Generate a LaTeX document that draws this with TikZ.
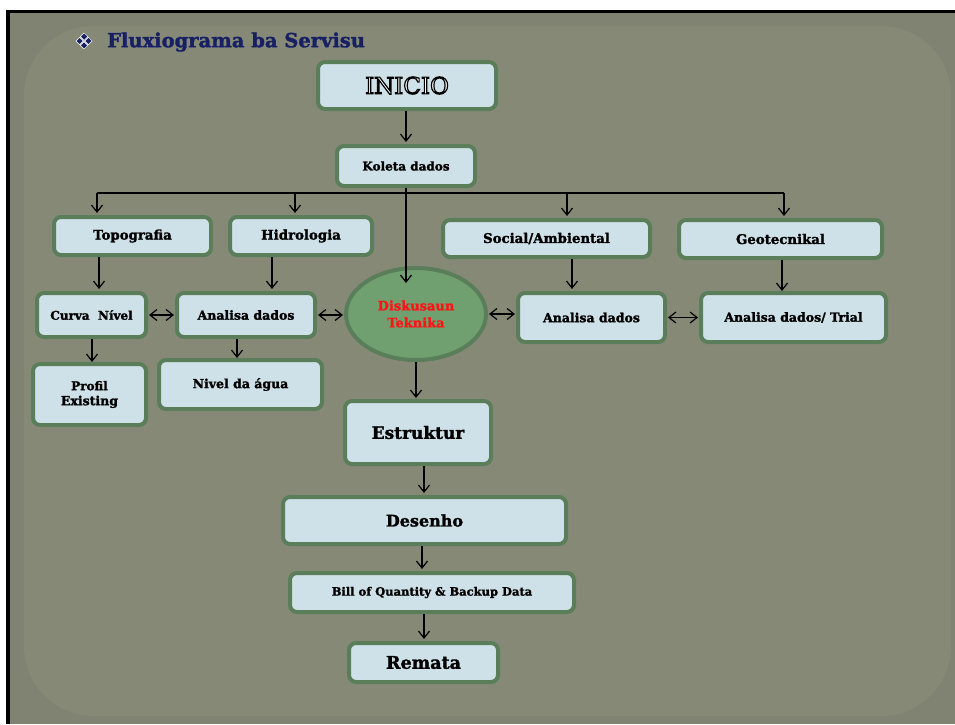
\documentclass[tikz,border=0pt]{standalone}
\usepackage{fontspec}
\setmainfont{DejaVu Serif}[BoldFeatures={FakeBold=1.6}]
\newfontfamily\dingfont{DejaVu Sans}
\usetikzlibrary{arrows.meta,shapes.geometric,calc}

% text drawn with a stroked outline: #1 = stroke colour (PDF operator), #2 = width, #3 = text
\newcommand{\strokedtext}[3]{%
  \special{pdf:literal direct #1 #2 w 2 Tr}#3\special{pdf:literal direct 0 Tr}}

\definecolor{pagewhite}{RGB}{255,255,255}
\definecolor{framegray}{RGB}{129,131,114}
\definecolor{panelgray}{RGB}{135,137,119}
\definecolor{boxfill}{RGB}{207,225,232}
\definecolor{boxedge}{RGB}{90,125,90}
\definecolor{ovalfill}{RGB}{112,160,112}
\definecolor{titlenavy}{RGB}{24,32,100}
\definecolor{alertred}{RGB}{255,20,20}

\tikzset{
  stepbox/.style={draw=boxedge, line width=4pt, fill=boxfill, rounded corners=7pt,
    inner sep=0pt, align=center, font=\bfseries\fontsize{12.5}{15}\selectfont},
  ovalbox/.style={ellipse, draw=boxedge, line width=4pt, fill=ovalfill,
    inner sep=0pt, align=center, text=alertred, font=\bfseries\fontsize{13}{17}\selectfont},
  arr/.style={line width=1.2pt, -{Straight Barb[length=7pt,width=11pt]}},
  darr/.style={line width=1.2pt, {Straight Barb[length=7pt,width=11pt]}-{Straight Barb[length=7pt,width=11pt]}},
  link/.style={line width=1.2pt}
}

\begin{document}
\begin{tikzpicture}[x=1pt,y=-1pt]
  % page and slide frame
  \useasboundingbox (0,0) rectangle (955,724);
  \fill[pagewhite] (0,0) rectangle (955,724);
  \fill[framegray] (6,10) rectangle (955,724);
  \fill[panelgray, rounded corners=70pt] (24,26) rectangle (951,716);
  \fill[black] (6,10) rectangle (955,13);
  \fill[black] (6,10) rectangle (10,724);

  % heading
  \node[anchor=west, inner sep=0pt, text=titlenavy] (bullet) at (74,41)
    {\dingfont\fontsize{22}{22}\selectfont\strokedtext{1 G}{0.5}{❖}};
  \node[anchor=west, inner sep=0pt, text=titlenavy] (title) at (107,42)
    {\bfseries\fontsize{19.5}{20}\selectfont Fluxiograma ba Servisu};

  % boxes
  \node[stepbox, minimum width=178pt, minimum height=47pt] (inicio) at (407,85.5)
    {\fontsize{23}{23}\selectfont\mdseries\textcolor{white}{\strokedtext{0 G}{1.2}{INICIO}}};
  \node[stepbox, minimum width=138pt, minimum height=40pt] (koleta) at (406,166) {\fontsize{12}{14}\selectfont Koleta dados};
  \node[stepbox, minimum width=157pt, minimum height=38pt] (topo) at (132.5,236) {\fontsize{13.3}{15}\selectfont Topografia};
  \node[stepbox, minimum width=142pt, minimum height=38pt] (hidro) at (301,236) {\fontsize{13.3}{15}\selectfont Hidrologia};
  \node[stepbox, minimum width=207pt, minimum height=37pt] (social) at (546.5,238.5) {\fontsize{13.3}{15}\selectfont Social/Ambiental};
  \node[stepbox, minimum width=203pt, minimum height=38pt] (geotec) at (780.5,239) {\fontsize{13.3}{15}\selectfont Geotecnikal};
  \node[stepbox, minimum width=109pt, minimum height=44pt] (curva) at (91.5,315) {\fontsize{12}{14}\selectfont Curva~ Nível};
  \node[stepbox, minimum width=138pt, minimum height=44pt] (analisaA) at (246,315) {Analisa dados};
  \node[ovalbox, minimum width=140pt, minimum height=92pt] (diskusaun) at (416,314) {Diskusaun\\Teknika};
  \node[stepbox, minimum width=147pt, minimum height=49pt] (analisaB) at (591.5,317.5) {Analisa dados};
  \node[stepbox, minimum width=185pt, minimum height=49pt] (analisaC) at (793.5,317.5) {Analisa dados/ Trial};
  \node[stepbox, minimum width=113pt, minimum height=61pt] (profil) at (89.5,394.5) {\fontsize{12}{21}\selectfont Profil\\Existing};
  \node[stepbox, minimum width=163pt, minimum height=49pt] (nivel) at (240.5,384.5) {\fontsize{12.5}{15}\selectfont Nivel da água};
  \node[stepbox, minimum width=146pt, minimum height=63pt] (estruktur) at (418,432.5) {\fontsize{17}{20}\selectfont Estruktur};
  \node[stepbox, minimum width=283pt, minimum height=47pt] (desenho) at (424.5,520.5) {\fontsize{16}{18}\selectfont Desenho};
  \node[stepbox, minimum width=284pt, minimum height=39pt] (bill) at (432,592.5) {\fontsize{11.5}{13}\selectfont Bill of Quantity \& Backup Data};
  \node[stepbox, minimum width=149pt, minimum height=39pt] (remata) at (423.5,662.5) {\fontsize{17.5}{20}\selectfont Remata};

  % start to data collection
  \draw[arr, shorten >=2pt] ([xshift=-1pt]inicio.south) -- ([xshift=-1pt]inicio.south |- koleta.north);

  % distribution bus below the data collection box
  \coordinate (bus) at ([yshift=-5pt]koleta.south);
  \coordinate (dropA) at ([xshift=-35.5pt]topo.north);
  \coordinate (dropB) at ([xshift=-6pt]hidro.north);
  \coordinate (dropC) at ([xshift=20.5pt]social.north);
  \coordinate (dropD) at ([xshift=3.5pt]geotec.north);
  \draw[link] (dropA |- bus) -- (dropD |- bus);
  \draw[arr, shorten >=2pt] (dropA |- bus) -- (dropA);
  \draw[arr, shorten >=2pt] (dropB |- bus) -- (dropB);
  \draw[arr, shorten >=2pt] (dropC |- bus) -- (dropC);
  \draw[arr, shorten >=2pt] (dropD |- bus) -- (dropD);
  \draw[arr] (koleta.south) -- ([yshift=-95pt]koleta.south);

  % discipline boxes to their analyses
  \coordinate (topoOut) at ([xshift=-33.5pt]topo.south);
  \draw[arr, shorten >=2pt] (topoOut) -- (topoOut |- curva.north);
  \coordinate (hidroOut) at ([xshift=-29pt]hidro.south);
  \draw[arr, shorten >=2pt] (hidroOut) -- (hidroOut |- analisaA.north);
  \coordinate (socialOut) at ([xshift=25.5pt]social.south);
  \draw[arr, shorten >=2pt] (socialOut) -- (socialOut |- analisaB.north);
  \coordinate (geotecOut) at ([xshift=1.5pt]geotec.south);
  \draw[arr] (geotecOut) -- (geotecOut |- analisaC.north);

  % exchanges along the analysis row
  \draw[darr, shorten <=1pt, shorten >=1pt] (curva.east) -- (analisaA.west);
  \draw[darr, shorten <=1pt, shorten >=1pt] (analisaA.east) -- (analisaA.east -| diskusaun.west);
  \draw[darr, shorten <=1pt, shorten >=1pt] (diskusaun.east) -- (diskusaun.east -| analisaB.west);
  \draw[darr, shorten <=1pt, shorten >=1pt] (analisaB.east) -- (analisaC.west);

  % analyses to their results
  \coordinate (curvaOut) at ([xshift=0.5pt]curva.south);
  \draw[arr] (curvaOut) -- (curvaOut |- profil.north);
  \coordinate (analisaOut) at ([xshift=-9pt]analisaA.south);
  \draw[arr] (analisaOut) -- (analisaOut |- nivel.north);

  % main sequence
  \draw[arr, shorten >=1pt] (diskusaun.south) -- (diskusaun.south |- estruktur.north);
  \coordinate (estOut) at ([xshift=6pt]estruktur.south);
  \draw[arr, shorten >=2pt] (estOut) -- (estOut |- desenho.north);
  \coordinate (desOut) at ([xshift=-2.5pt]desenho.south);
  \draw[arr, shorten >=2pt] (desOut) -- (desOut |- bill.north);
  \coordinate (billOut) at ([xshift=-8pt]bill.south);
  \draw[arr, shorten >=2pt] (billOut) -- (billOut |- remata.north);
\end{tikzpicture}
\end{document}
